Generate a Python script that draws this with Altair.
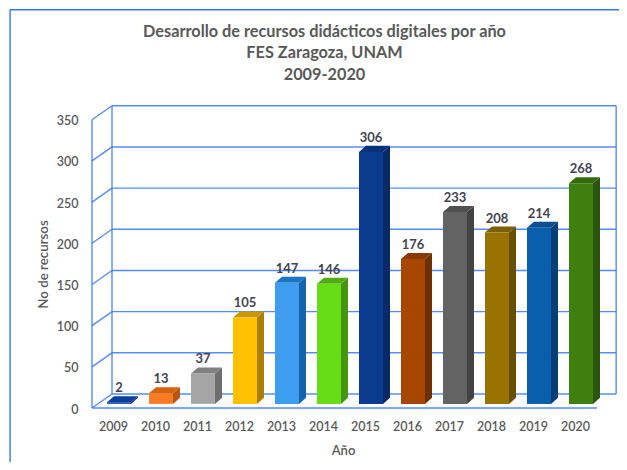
import altair as alt
import pandas as pd

years = [2009, 2010, 2011, 2012, 2013, 2014, 2015, 2016, 2017, 2018, 2019, 2020]
values = [2, 13, 37, 105, 147, 146, 306, 176, 233, 208, 214, 268]
front = ["#0f4bb5", "#fb7b22", "#a5a5a5", "#ffc000", "#3e9def", "#66dd15",
         "#0a3b8f", "#a84600", "#636363", "#997300", "#0a5fad", "#3f7f10"]
side = ["#0a3478", "#b85510", "#6e6e6e", "#ab8000", "#1463ad", "#45960e",
        "#072a66", "#6f2f00", "#434343", "#665000", "#063f73", "#2a550b"]
top = ["#0c3f9a", "#d4640f", "#808080", "#c99700", "#1a75c4", "#52ad10",
       "#08327a", "#8a3a00", "#505050", "#7d5e00", "#084f90", "#336a0c"]
ticks = [0, 50, 100, 150, 200, 250, 300, 350]
titles = ["Desarrollo de recursos didácticos digitales por año", "FES Zaragoza, UNAM", "2009-2020"]

BLUE = "#3a78f2"
GRAY = "#595959"
FONT = "Lato"

# depth of the 3D box and bars, in axis units
wall_x, wall_y = 20 / 42, 17
shift_x, half_w, base_y = 6 / 42, 12 / 42, 5
depth_x, depth_y = 7 / 42, 7.3
x0, x1 = 2008.5, 2021

xs = alt.Scale(domain=[x0, x1], nice=False, zero=False)
ys = alt.Scale(domain=[0, 374], nice=False, zero=False)

# wire frame
wire = []
for t in ticks:
    wire.append(dict(x=x0 + wall_x, x2=x1 - 0.02, y=t + wall_y, y2=t + wall_y))
    wire.append(dict(x=x0, x2=x0 + wall_x, y=t, y2=t + wall_y))
wire.append(dict(x=x0, x2=x0, y=0, y2=350))
wire.append(dict(x=x0 + wall_x, x2=x0 + wall_x, y=wall_y, y2=350 + wall_y))
wire.append(dict(x=x1 - 0.02, x2=x1 - 0.02, y=wall_y, y2=350 + wall_y))
wire.append(dict(x=x0, x2=x1 - wall_x, y=0, y2=0))
wire_df = pd.DataFrame(wire)
frame = alt.Chart(wire_df).mark_rule(color=BLUE, strokeWidth=1.4, clip=False, opacity=0.85).encode(
    x=alt.X("x:Q", scale=xs, axis=alt.Axis(
        values=years, format="d", labelFont=FONT, labelFontSize=12.5, labelFontWeight=600,
        labelColor=GRAY, domain=False, ticks=False, labelPadding=12, grid=False,
        title="Año", titleFont=FONT, titleFontSize=13, titleFontWeight=600, titleColor=GRAY,
        titleX=251, titleY=36, labelFlush=False, labelOverlap=False)),
    x2="x2:Q",
    y=alt.Y("y:Q", scale=ys, axis=alt.Axis(
        values=ticks, labelFont=FONT, labelFontSize=12.5, labelFontWeight=600, labelColor=GRAY,
        domain=False, ticks=False, labelPadding=14, grid=False, labelOffset=1,
        title="No de recursos", titleFont=FONT, titleFontSize=13.3, titleFontWeight=600,
        titleColor=GRAY, titleX=-42, titleY=164)),
    y2="y2:Q",
)

# outer picture frame: left and top edges
border_df = pd.DataFrame([
    dict(x=2006.55, x2=2006.55, y=-70, y2=483.5),
    dict(x=2006.55, x2=2022, y=483.5, y2=483.5),
])
border = alt.Chart(border_df).mark_rule(color="#2f7bf5", strokeWidth=1.4, clip=False).encode(
    x=alt.X("x:Q", scale=xs), x2="x2:Q", y=alt.Y("y:Q", scale=ys), y2="y2:Q")

# bars
rows, keys, colors = [], [], []
for yr, v, f, s, t in zip(years, values, front, side, top):
    l, r = yr + shift_x - half_w, yr + shift_x + half_w
    b, h = base_y, base_y + v
    k = str(yr)
    keys += [k + "f", k + "s", k + "t"]
    colors += [f, s, t]
    rows += [dict(k=k + "s", x=r, lo=b, hi=h),
             dict(k=k + "s", x=r + depth_x, lo=b + depth_y, hi=h + depth_y),
             dict(k=k + "t", x=l, lo=h, hi=h),
             dict(k=k + "t", x=l + depth_x, lo=h, hi=h + depth_y),
             dict(k=k + "t", x=r, lo=h, hi=h + depth_y),
             dict(k=k + "t", x=r + depth_x, lo=h + depth_y, hi=h + depth_y),
             dict(k=k + "f", x=l, lo=b, hi=h),
             dict(k=k + "f", x=r, lo=b, hi=h)]
faces = alt.Chart(pd.DataFrame(rows)).mark_area(interpolate="linear", orient="vertical").encode(
    x=alt.X("x:Q", scale=xs),
    y=alt.Y("lo:Q", scale=ys, stack=None),
    y2=alt.Y2("hi:Q"),
    color=alt.Color("k:N", scale=alt.Scale(domain=keys, range=colors), legend=None),
)

lab_df = pd.DataFrame(dict(x=[y + shift_x for y in years], y=[v + base_y for v in values], t=values))
labels = alt.Chart(lab_df).mark_text(
    font=FONT, fontSize=13, fontWeight=700, color="#44444f", baseline="middle", dy=-14, clip=False
).encode(x=alt.X("x:Q", scale=xs), y=alt.Y("y:Q", scale=ys), text="t:Q")

chart = alt.layer(frame, border, faces, labels).properties(
    width=525, height=308,
    padding={"left": 84, "top": 92, "right": 2, "bottom": 54},
    autosize=alt.AutoSizeParams(type="none"),
    title=alt.TitleParams(text=titles, font=FONT, fontSize=16.3, fontWeight=700, color=GRAY,
                          lineHeight=21.5, anchor="middle", dx=-30, offset=-74),
).configure_view(stroke=None)

chart.save("out.html", embed_options={"renderer": "svg", "actions": False})
